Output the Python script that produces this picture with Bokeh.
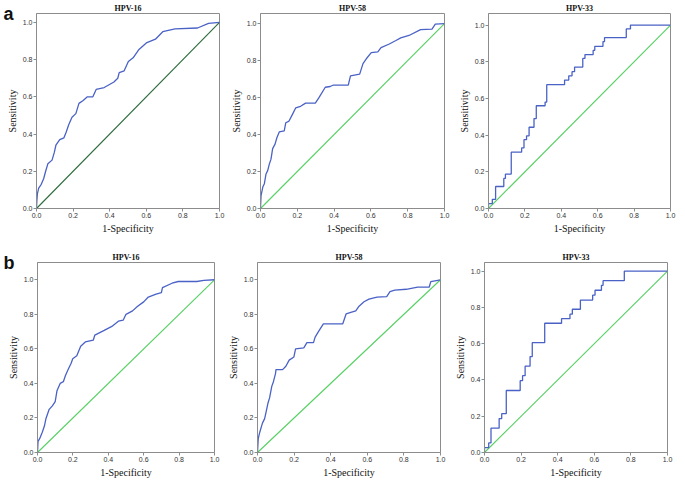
from bokeh.plotting import figure
from bokeh.layouts import column, row
from bokeh.models import Range1d, PrintfTickFormatter, FixedTicker, LinearAxis
from bokeh.embed import file_html
from bokeh.resources import INLINE

# ---------------- data ----------------
titles = ["HPV-16", "HPV-58", "HPV-33"]
panel_letters = ["a", "b"]
x_ticks = [0.0, 0.2, 0.4, 0.6, 0.8, 1.0]
y_ticks = [0.0, 0.2, 0.4, 0.6, 0.8, 1.0]
diag = [0.0, 1.0]

# panel a, HPV-16
a16_fpr = [0, 0.002, 0.005, 0.012, 0.026, 0.039, 0.05, 0.062, 0.085, 0.097,
           0.106, 0.127, 0.15, 0.162, 0.176, 0.194, 0.215, 0.232, 0.255, 0.278,
           0.308, 0.326, 0.37, 0.423, 0.444, 0.452, 0.479, 0.502, 0.528, 0.56,
           0.60, 0.65, 0.69, 0.757, 0.88, 0.94, 1.0]
a16_tpr = [0, 0.04, 0.08, 0.11, 0.13, 0.16, 0.20, 0.24, 0.26, 0.30,
           0.34, 0.37, 0.38, 0.41, 0.45, 0.49, 0.51, 0.565, 0.58, 0.60,
           0.60, 0.64, 0.65, 0.68, 0.70, 0.73, 0.74, 0.79, 0.81, 0.855,
           0.89, 0.91, 0.95, 0.965, 0.97, 0.995, 1.0]

# panel a, HPV-58
a58_fpr = [0, 0.003, 0.0125, 0.021, 0.03, 0.039, 0.048, 0.057, 0.066, 0.079,
           0.089, 0.102, 0.129, 0.1375, 0.155, 0.173, 0.191, 0.218, 0.245, 0.298,
           0.316, 0.352, 0.379, 0.396, 0.477, 0.489, 0.539, 0.557, 0.575, 0.602,
           0.6375, 0.655, 0.70, 0.736, 0.762, 0.807, 0.87, 0.932, 0.95, 1.0]
a58_tpr = [0, 0.07, 0.116, 0.134, 0.187, 0.205, 0.24, 0.267, 0.324, 0.348,
           0.383, 0.414, 0.42, 0.464, 0.473, 0.508, 0.544, 0.553, 0.57, 0.57,
           0.597, 0.656, 0.66, 0.668, 0.668, 0.718, 0.727, 0.784, 0.81, 0.843,
           0.847, 0.87, 0.89, 0.909, 0.923, 0.936, 0.968, 0.971, 0.998, 1.0]

# panel a, HPV-33 (staircase corners)
a33_fpr = [0, 0.021, 0.039, 0.084, 0.093, 0.125, 0.182, 0.195, 0.209, 0.223,
           0.25, 0.2625, 0.311, 0.32, 0.418, 0.441, 0.459, 0.473, 0.518, 0.53,
           0.575, 0.584, 0.629, 0.6375, 0.757, 0.78, 1.0]
a33_tpr = [0, 0.027, 0.05, 0.12, 0.164, 0.1875, 0.307, 0.33, 0.375, 0.396,
           0.443, 0.49, 0.56, 0.58, 0.675, 0.70, 0.723, 0.746, 0.771, 0.818,
           0.839, 0.8625, 0.884, 0.91, 0.932, 0.979, 1.0]

# panel b, HPV-16
b16_fpr = [0, 0.003, 0.012, 0.027, 0.039, 0.048, 0.066, 0.084, 0.10, 0.11,
           0.128, 0.146, 0.158, 0.173, 0.19, 0.199, 0.222, 0.244, 0.27, 0.315,
           0.324, 0.377, 0.42, 0.457, 0.484, 0.50, 0.537, 0.564, 0.60, 0.626,
           0.67, 0.70, 0.706, 0.76, 0.795, 0.9, 0.94, 1.0]
b16_tpr = [0, 0.064, 0.08, 0.117, 0.153, 0.197, 0.25, 0.27, 0.295, 0.357,
           0.40, 0.41, 0.446, 0.48, 0.517, 0.543, 0.56, 0.615, 0.64, 0.65,
           0.68, 0.707, 0.73, 0.76, 0.766, 0.80, 0.82, 0.845, 0.872, 0.90,
           0.917, 0.925, 0.955, 0.98, 0.99, 0.99, 0.996, 1.0]

# panel b, HPV-58
b58_fpr = [0, 0.004, 0.012, 0.027, 0.039, 0.048, 0.057, 0.066, 0.078, 0.087,
           0.098, 0.101, 0.137, 0.155, 0.173, 0.199, 0.208, 0.253, 0.27, 0.306,
           0.315, 0.333, 0.36, 0.466, 0.484, 0.51, 0.537, 0.555, 0.582, 0.609,
           0.653, 0.706, 0.724, 0.75, 0.813, 0.875, 0.938, 0.947, 1.0]
b58_tpr = [0, 0.08, 0.116, 0.17, 0.196, 0.24, 0.285, 0.316, 0.383, 0.41,
           0.455, 0.48, 0.48, 0.499, 0.535, 0.553, 0.60, 0.606, 0.636, 0.636,
           0.668, 0.70, 0.745, 0.745, 0.802, 0.811, 0.82, 0.847, 0.873, 0.888,
           0.90, 0.903, 0.932, 0.94, 0.945, 0.957, 0.957, 0.989, 1.0]

# panel b, HPV-33 (staircase corners)
b33_fpr = [0, 0.023, 0.0355, 0.08, 0.094, 0.119, 0.195, 0.208, 0.222, 0.249,
           0.261, 0.329, 0.421, 0.467, 0.48, 0.524, 0.591, 0.604, 0.639, 0.648,
           0.764, 1.0]
b33_tpr = [0, 0.027, 0.053, 0.134, 0.187, 0.214, 0.342, 0.396, 0.424, 0.476,
           0.529, 0.606, 0.713, 0.738, 0.763, 0.79, 0.841, 0.868, 0.895, 0.922,
           0.948, 1.0]

# ---------------- styling ----------------
BLUE = "#4a62c6"
GREEN = "#55d062"
DARKGREEN = "#2d6b3c"
FRAME = "#8c8c8c"


def make(title, w, h, l, r, t, b, ymax, fpr, tpr, stairs, diag_color):
    p = figure(width=w, height=h, min_border_left=l, min_border_right=r,
               min_border_top=t, min_border_bottom=b,
               x_range=Range1d(0, 1), y_range=Range1d(0, ymax),
               output_backend="svg", toolbar_location=None, title=title)
    p.background_fill_color = "white"
    p.border_fill_color = "white"
    p.outline_line_color = FRAME
    p.outline_line_width = 1
    p.xgrid.visible = False
    p.ygrid.visible = False

    p.title.align = "center"
    p.title.text_font = "Liberation Serif"
    p.title.text_font_style = "bold"
    p.title.text_font_size = "8px"
    p.title.text_color = "#111111"
    p.title.standoff = 2

    p.xaxis.ticker = FixedTicker(ticks=x_ticks)
    p.yaxis.ticker = FixedTicker(ticks=y_ticks)
    p.axis.formatter = PrintfTickFormatter(format="%.1f")
    p.axis.minor_tick_line_color = None
    p.axis.major_tick_in = 0
    p.axis.major_tick_out = 3
    p.axis.axis_line_color = FRAME
    p.axis.major_tick_line_color = FRAME
    p.axis.major_label_text_font = "Liberation Sans"
    p.axis.major_label_text_font_size = "7px"
    p.axis.major_label_text_color = "#333333"
    p.axis.major_label_standoff = 1
    p.axis.axis_label_text_font = "Liberation Serif"
    p.axis.axis_label_text_font_style = "normal"
    p.axis.axis_label_text_font_size = "10px"
    p.axis.axis_label_text_color = "#111111"
    p.axis.axis_label_standoff = 2
    p.xaxis.axis_label = "1-Specificity"
    p.yaxis.axis_label = "Sensitivity"

    p.line(diag, diag, line_color=diag_color, line_width=1.1)
    if stairs:
        p.step(fpr, tpr, mode="before", line_color=BLUE, line_width=1.3)
    else:
        p.line(fpr, tpr, line_color=BLUE, line_width=1.3)
    return p


def add_letter(p, letter, ymax):
    # panel letter drawn as the label of an otherwise invisible outer axis
    p.extra_y_ranges = {"letter": Range1d(0, ymax)}
    ax = LinearAxis(y_range_name="letter", ticker=FixedTicker(ticks=[]),
                    axis_label=letter,
                    axis_label_orientation="horizontal",
                    axis_label_text_font="Liberation Sans",
                    axis_label_text_font_style="bold",
                    axis_label_text_font_size="18px",
                    axis_label_text_color="#111111",
                    axis_line_color=None, major_tick_line_color=None,
                    minor_tick_line_color=None, major_label_text_font_size="0px",
                    major_tick_in=0, major_tick_out=0)
    if "axis_label_align" in LinearAxis.properties():
        ax.axis_label_align = "end"
    try:
        ax.axis_label_standoff = -10
    except Exception:
        ax.axis_label_standoff = 0
    p.add_layout(ax, "left")


a1 = make(titles[0], 227, 236, 31, 8, 11, 25, 1.048, a16_fpr, a16_tpr, False, DARKGREEN)
a2 = make(titles[1], 228, 236, 32, 11, 13, 23, 1.055, a58_fpr, a58_tpr, False, GREEN)
a3 = make(titles[2], 222, 236, 31, 7, 12, 23, 1.063, a33_fpr, a33_tpr, True, GREEN)
b1 = make(titles[0], 224, 244, 29, 10, 17, 18, 1.10, b16_fpr, b16_tpr, False, GREEN)
b2 = make(titles[1], 227, 244, 30, 11, 17, 18, 1.10, b58_fpr, b58_tpr, False, GREEN)
b3 = make(titles[2], 226, 244, 30, 10, 26, 18, 1.048, b33_fpr, b33_tpr, True, GREEN)

add_letter(a1, panel_letters[0], 1.048)
add_letter(b1, panel_letters[1], 1.10)

layout = column(row(a1, a2, a3), row(b1, b2, b3))
open("out.html", "w").write(file_html(layout, INLINE))
